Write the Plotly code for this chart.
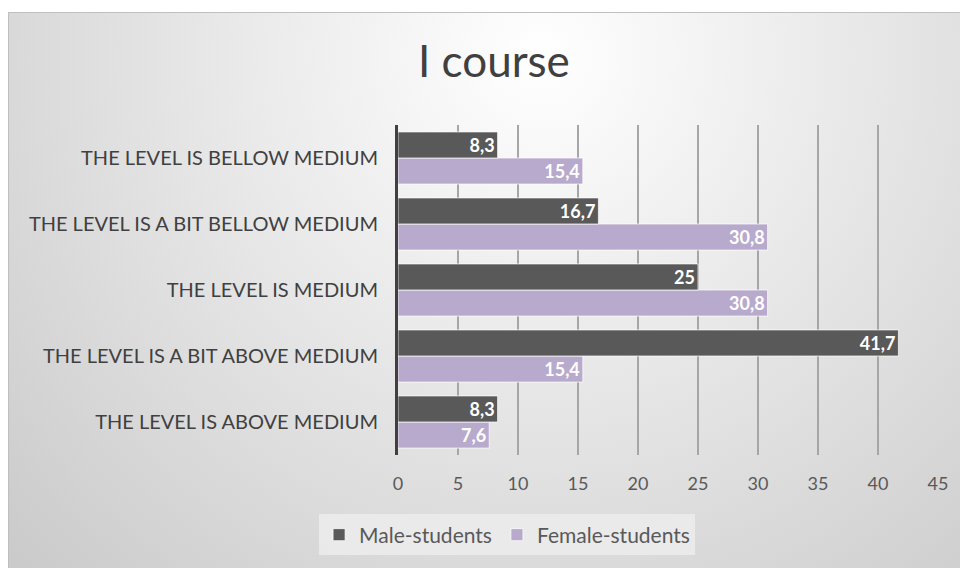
import plotly.graph_objects as go

categories = [
    "THE LEVEL IS ABOVE MEDIUM",
    "THE LEVEL IS A BIT ABOVE MEDIUM",
    "THE LEVEL IS MEDIUM",
    "THE LEVEL IS A BIT BELLOW MEDIUM",
    "THE LEVEL IS BELLOW MEDIUM",
]
male = [8.3, 41.7, 25, 16.7, 8.3]
female = [7.6, 15.4, 30.8, 30.8, 15.4]
x_ticks = [0, 5, 10, 15, 20, 25, 30, 35, 40, 45]

FONT = "Lato"
MALE_C = "#595959"
FEMALE_C = "#b8aacd"

svg = (
    "data:image/svg+xml;utf8,"
    "<svg xmlns='http://www.w3.org/2000/svg' width='968' height='564' preserveAspectRatio='none'>"
    "<defs><radialGradient id='g' cx='0.55' cy='0.08' r='0.75' gradientTransform='translate(0.55,0.08) scale(1,1.7) translate(-0.55,-0.08)'>"
    "<stop offset='0' stop-color='%23ffffff'/><stop offset='1' stop-color='%23cbcbcb'/></radialGradient></defs>"
    "<rect width='968' height='564' fill='url(%23g)' stroke='%23bfbfbf' stroke-width='2'/></svg>"
)

fig = go.Figure()
fig.add_trace(go.Bar(
    y=categories, x=female, name="Female-students", orientation="h",
    marker=dict(color=FEMALE_C, line=dict(color="rgba(255,255,255,0.7)", width=1)),
    texttemplate="%{x}", textposition="inside", insidetextanchor="end", textangle=0,
    constraintext="none",
    textfont=dict(family=FONT, size=18, color="white", weight="bold"),
))
fig.add_trace(go.Bar(
    y=categories, x=male, name="Male-students", orientation="h",
    marker=dict(color=MALE_C, line=dict(color="rgba(255,255,255,0.7)", width=1)),
    texttemplate="%{x}", textposition="inside", insidetextanchor="end", textangle=0,
    constraintext="none",
    textfont=dict(family=FONT, size=18, color="white", weight="bold"),
))

fig.update_layout(
    width=968, height=568,
    margin=dict(l=390, r=38, t=117, b=121),
    paper_bgcolor="white", plot_bgcolor="rgba(0,0,0,0)",
    barmode="group", bargap=0.21, bargroupgap=0,
    separators=", ",
    title=dict(text="I course", x=0.502, xanchor="center", y=0.905, yanchor="middle",
               font=dict(family=FONT, size=44, color="#404040")),
    xaxis=dict(range=[0, 45], tickvals=x_ticks, showgrid=True, gridcolor="#a6a6a6", gridwidth=2,
               zeroline=False, showline=False, ticks="",
               tickfont=dict(family=FONT, size=18, color="#595959"), ticklabelstandoff=16),
    yaxis=dict(showgrid=False, showline=True, linecolor="#404040", linewidth=3, ticks="",
               tickfont=dict(family=FONT, size=20, color="#404040"), ticklabelstandoff=13),
    legend=dict(orientation="h", x=0.202, xanchor="center", y=-0.2424, yanchor="middle",
                traceorder="reversed", bgcolor="rgba(236,236,236,0.85)",
                font=dict(family=FONT, size=21, color="#595959"), itemwidth=30),
    showlegend=True,
    images=[dict(source=svg, xref="paper", yref="paper", x=-0.7222, y=1.3424,
                 sizex=1.7926, sizey=1.7091, sizing="stretch", layer="below",
                 xanchor="left", yanchor="top")],
)

fig.write_html("out.html")
